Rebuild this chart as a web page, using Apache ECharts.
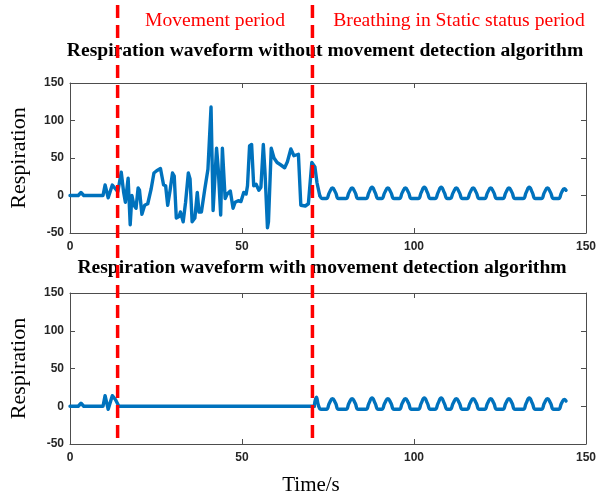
<!DOCTYPE html>
<html>
<head>
<meta charset="utf-8">
<script src="https://cdn.jsdelivr.net/npm/echarts@6/dist/echarts.min.js"></script>
<style>
html,body{margin:0;padding:0;background:#fff;}
#chart{width:599px;height:498px;}
</style>
</head>
<body>
<div id="chart"></div>
<script>
// ---- data ----
var xTicks = [0, 50, 100, 150];
var yTicks = [-50, 0, 50, 100, 150];
var dividerTimes = [14.6, 70.8];
var periodLabels = ['Movement period', 'Breathing in Static status period'];
var plotTitles = ['Respiration waveform without movement detection algorithm',
                  'Respiration waveform with movement detection algorithm'];
var xName = 'Time/s';
var yName = 'Respiration';

// top plot, movement part (raw, unfiltered)
var topMovement = [
 [0,0],[2.4,0],[3.2,4],[4.0,0],[9.6,0],[10.2,14],[11.1,-3],[12.3,14],[13.2,9],[13.9,5],
 [14.9,31],[15.6,4],[16.1,-9],[16.9,23],[17.5,-39],[18.0,0],[18.6,-13],[19.2,-17],[19.8,10],[20.2,7],
 [20.9,-25],[21.7,-13],[22.6,-11],[23.6,9],[24.4,30],[25.2,33],[26.3,36],[26.7,35],[27.2,14],[27.8,13],
 [28.4,-13],[29.1,7],[29.8,30],[30.3,26],[30.9,-30],[31.7,-28],[32.1,-22],[32.9,-35],[33.6,-9],[34.4,30],
 [34.9,22],[35.5,-35],[36.3,-30],[37.0,4],[37.5,-22],[38.2,-22],[39.2,9],[40.1,35],[41.0,118],[41.6,-20],
 [42.6,63],[43.1,35],[43.8,-26],[44.3,63],[45.1,-4],[45.7,2],[46.6,6],[47.4,-17],[48.0,-9],[48.9,-7],
 [49.7,-8],[50.5,4],[51.2,2],[51.6,13],[52.2,66],[52.8,68],[53.4,13],[54.1,15],[54.9,7],[55.5,11],
 [56.2,68],[56.7,30],[57.4,-43],[57.7,-35],[58.5,63],[59.3,50],[60.2,44],[61.2,41],[62.4,37],[63.2,45],
 [64.2,62],[65.1,53],[66.4,55],[67.1,-13],[68.4,-14],[69.3,-11],[70.3,44],[70.8,45],[71.2,38],[71.8,17],
 [72.6,0]
];
// top plot, static breathing part
var topBreathing = [
 [72.6,0],[73.4,-4],[74.5,-4],
 [75.4,4],[76.3,10],[77.2,4],[78.1,-4],
 [80.2,-4],[81.1,4],[82.0,10],[82.9,4],[83.8,-4],
 [86.0,-4],[86.9,4],[87.8,11],[88.7,4],[89.6,-4],
 [90.6,-4],[91.5,4],[92.4,10],[93.3,4],[94.2,-4],
 [95.7,-4],[96.6,4],[97.5,10],[98.4,4],[99.3,-4],
 [101.2,-4],[102.1,4],[103.0,11],[103.9,4],[104.8,-4],
 [106.1,-4],[107.0,4],[107.9,11],[108.8,4],[109.7,-4],
 [110.5,-4],[111.4,4],[112.3,10],[113.2,4],[114.1,-4],
 [115.4,-4],[116.3,4],[117.2,10],[118.1,4],[119.0,-4],
 [120.5,-4],[121.4,4],[122.3,10],[123.2,4],[124.1,-4],
 [125.8,-4],[126.7,4],[127.6,10],[128.5,4],[129.4,-4],
 [131.7,-4],[132.6,4],[133.5,11],[134.4,4],[135.3,-4],
 [137.0,-4],[137.9,4],[138.8,10],[139.7,4],[140.6,-4],
 [142.0,-4],[142.9,4],[143.7,9],[144.2,7]
];
// bottom plot, movement part (suppressed by detection algorithm)
var bottomMovement = [
 [0,0],[2.4,0],[3.2,4],[4.0,0],[9.6,0],[10.2,14],[11.1,-4],[12.3,14],[13.2,9],[14.2,0],[71.0,0]
];
// bottom plot, static breathing part
var bottomBreathing = [
 [71.0,0],[71.6,12],[72.3,0],[73.0,-4],[74.5,-4],
 [75.4,4],[76.3,10],[77.2,4],[78.1,-4],
 [80.2,-4],[81.1,4],[82.0,10],[82.9,4],[83.8,-4],
 [86.0,-4],[86.9,4],[87.8,11],[88.7,4],[89.6,-4],
 [90.6,-4],[91.5,4],[92.4,10],[93.3,4],[94.2,-4],
 [95.7,-4],[96.6,4],[97.5,10],[98.4,4],[99.3,-4],
 [101.2,-4],[102.1,4],[103.0,11],[103.9,4],[104.8,-4],
 [106.1,-4],[107.0,4],[107.9,11],[108.8,4],[109.7,-4],
 [110.5,-4],[111.4,4],[112.3,10],[113.2,4],[114.1,-4],
 [115.4,-4],[116.3,4],[117.2,10],[118.1,4],[119.0,-4],
 [120.5,-4],[121.4,4],[122.3,10],[123.2,4],[124.1,-4],
 [125.8,-4],[126.7,4],[127.6,10],[128.5,4],[129.4,-4],
 [131.7,-4],[132.6,4],[133.5,11],[134.4,4],[135.3,-4],
 [137.0,-4],[137.9,4],[138.8,10],[139.7,4],[140.6,-4],
 [142.0,-4],[142.9,4],[143.7,9],[144.2,7]
];

// ---- styling ----
var BLUE = '#0072BD';
var AX = '#4d4d4d';
var SERIF = '"Liberation Serif", "Times New Roman", serif';
var SANS = '"Liberation Sans", Arial, sans-serif';

var chart = echarts.init(document.getElementById('chart'));

function xAxes(gi) {
  var base = {
    type: 'value', gridIndex: gi, min: xTicks[0], max: xTicks[xTicks.length-1],
    interval: xTicks[1]-xTicks[0], splitLine: {show: false},
    axisLine: {show: true, onZero: false, lineStyle: {color: AX, width: 1}},
    axisTick: {show: true, inside: true, length: 5, lineStyle: {color: AX}}
  };
  return [
    Object.assign({}, base, {position: 'bottom',
      axisLabel: {show: true, margin: 8, color: '#262626', fontWeight: 'bold', fontSize: 12, fontFamily: SANS}}),
    Object.assign({}, base, {position: 'top', axisLabel: {show: false}})
  ];
}
function yAxes(gi) {
  var base = {
    type: 'value', gridIndex: gi, min: yTicks[0], max: yTicks[yTicks.length-1],
    interval: yTicks[1]-yTicks[0], splitLine: {show: false},
    axisLine: {show: true, onZero: false, lineStyle: {color: AX, width: 1}},
    axisTick: {show: true, inside: true, length: 5, lineStyle: {color: AX}}
  };
  return [
    Object.assign({}, base, {position: 'left', name: yName, nameLocation: 'middle', nameGap: 40,
      nameTextStyle: {fontFamily: SERIF, fontSize: 22, color: '#000'},
      axisLabel: {show: true, margin: 6, color: '#262626', fontWeight: 'bold', fontSize: 12, fontFamily: SANS}}),
    Object.assign({}, base, {position: 'right', axisLabel: {show: false}})
  ];
}

var xa = xAxes(0).concat(xAxes(1));
xa.push({type: 'value', gridIndex: 2, min: xTicks[0], max: xTicks[xTicks.length-1], show: false});
var ya = yAxes(0).concat(yAxes(1));
ya.push({type: 'value', gridIndex: 2, min: 0, max: 1, show: false});

function lineSeries(data, xi, yi, smooth) {
  return {type: 'line', xAxisIndex: xi, yAxisIndex: yi, data: data, showSymbol: false, symbol: 'none',
    smooth: smooth, animation: false, z: 3,
    lineStyle: {color: BLUE, width: 3.4, join: 'round', cap: 'round'}};
}

var series = [
  lineSeries(topMovement, 0, 0, false),
  lineSeries(topBreathing, 0, 0, 0.5),
  lineSeries(bottomMovement, 2, 2, false),
  lineSeries(bottomBreathing, 2, 2, 0.5)
];
dividerTimes.forEach(function (t) {
  series.push({type: 'line', xAxisIndex: 4, yAxisIndex: 4, data: [[t, 1], [t, 0]],
    showSymbol: false, symbol: 'none', animation: false, z: 10,
    lineStyle: {color: '#ff0000', width: 3.5, type: [13, 7], cap: 'butt'}});
});

var option = {
  backgroundColor: '#fff',
  animation: false,
  grid: [
    {left: 67, top: 83, width: 520, height: 150},
    {left: 67, top: 293, width: 520, height: 151},
    {left: 67, top: 5, width: 520, height: 435}
  ],
  xAxis: xa,
  yAxis: ya,
  series: series,
  graphic: [
    {type: 'text', x: 215, y: 21, z: 1, style: {text: periodLabels[0], fill: '#ff0000',
      font: '19.6px ' + SERIF, textAlign: 'center', textVerticalAlign: 'middle'}},
    {type: 'text', x: 459, y: 21, z: 1, style: {text: periodLabels[1], fill: '#ff0000',
      font: '19.6px ' + SERIF, textAlign: 'center', textVerticalAlign: 'middle'}},
    {type: 'text', x: 325, y: 51, z: 1, style: {text: plotTitles[0], fill: '#000',
      font: 'bold 19.6px ' + SERIF, textAlign: 'center', textVerticalAlign: 'middle'}},
    {type: 'text', x: 322, y: 268, z: 1, style: {text: plotTitles[1], fill: '#000',
      font: 'bold 19.6px ' + SERIF, textAlign: 'center', textVerticalAlign: 'middle'}},
    {type: 'text', x: 311, y: 485, z: 1, style: {text: xName, fill: '#000',
      font: '21px ' + SERIF, textAlign: 'center', textVerticalAlign: 'middle'}}
  ]
};
chart.setOption(option);
</script>
</body>
</html>
